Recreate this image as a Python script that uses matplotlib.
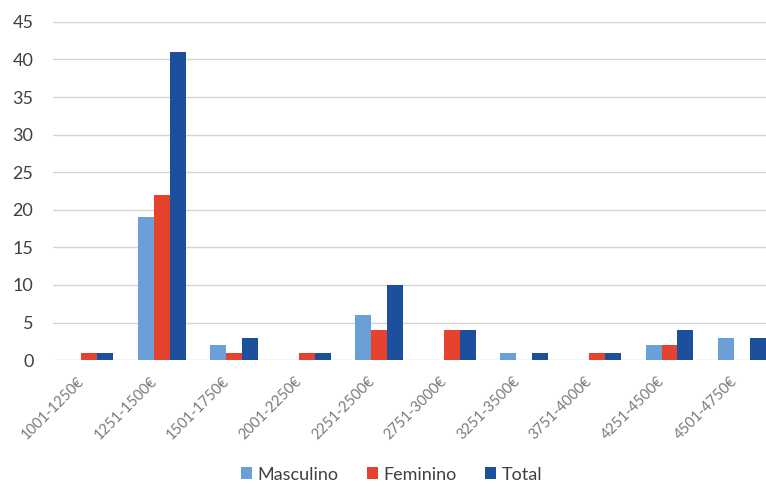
"""Distribution of salaries by gender, grouped bar chart."""

import matplotlib
matplotlib.use("Agg")
import matplotlib.pyplot as plt
import matplotlib.transforms as mtransforms
import numpy as np

categories = ["1001-1250€", "1251-1500€", "1501-1750€", "2001-2250€", "2251-2500€",
              "2751-3000€", "3251-3500€", "3751-4000€", "4251-4500€", "4501-4750€"]
masculino = [0, 19, 2, 0, 6, 0, 1, 0, 2, 3]
feminino = [1, 22, 1, 1, 4, 4, 0, 1, 2, 0]
total = [1, 41, 3, 1, 10, 4, 1, 1, 4, 3]
y_ticks = list(range(0, 50, 5))

plt.rcParams["font.family"] = ["Lato", "DejaVu Sans"]

fig = plt.figure(figsize=(7.66, 4.86), dpi=100)
ax = fig.add_axes([0.069, 0.259, 0.931, 0.696])

x = np.arange(len(categories))
w = 0.22
series = [
    ("Masculino", masculino, "#6a9fd8"),
    ("Feminino", feminino, "#e5432d"),
    ("Total", total, "#1c4f9c"),
]
for i, (name, vals, color) in enumerate(series):
    ax.bar(x + (i - 1) * w, vals, w, color=color, label=name, zorder=3)

ax.set_ylim(0, 45)
ax.set_xlim(-0.5, 9.33)
ax.set_yticks(y_ticks)
ax.tick_params(axis="y", length=0, labelsize=13, colors="#404040", pad=14)
ax.grid(axis="y", color="#d4d4d4", linewidth=1, zorder=0)
ax.set_xticks(x)
ax.set_xticklabels(categories, rotation=45, ha="right", rotation_mode="anchor",
                   fontsize=10.5, color="#7a7a7a")
ax.tick_params(axis="x", length=0, pad=10)
shift = mtransforms.ScaledTranslation(-12 / 100, 0, fig.dpi_scale_trans)
for lbl in ax.get_xticklabels():
    lbl.set_transform(lbl.get_transform() + shift)
for s in ax.spines.values():
    s.set_visible(False)

ax.legend(loc="lower center", bbox_to_anchor=(0.475, -0.41), ncol=3, frameon=False,
          fontsize=13, handlelength=0.6, handleheight=0.6, handletextpad=0.3,
          columnspacing=1.6, labelcolor="#404040")

fig.savefig("out.png", dpi=100)
